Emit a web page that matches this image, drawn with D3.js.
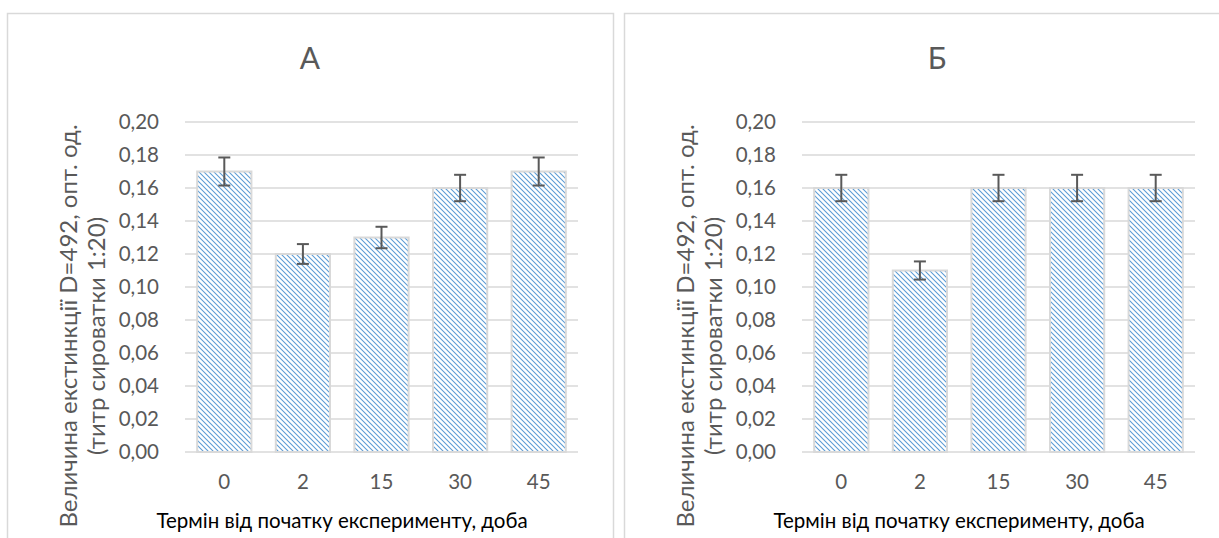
<!DOCTYPE html>
<html>
<head>
<meta charset="utf-8">
<script src="https://cdn.jsdelivr.net/npm/d3@7"></script>
<style>
  body { margin: 0; background: #fff; }
  svg { display: block; font-family: Lato, "Open Sans", sans-serif; }
</style>
</head>
<body>
<div id="chart"></div>
<script>
// data
const categories = ["0", "2", "15", "30", "45"];
const valuesA = [0.17, 0.12, 0.13, 0.16, 0.17];
const errorsA = [0.0085, 0.006, 0.0065, 0.008, 0.0085];
const valuesB = [0.16, 0.11, 0.16, 0.16, 0.16];
const errorsB = [0.008, 0.0055, 0.008, 0.008, 0.008];
const yTicks = [0, 0.02, 0.04, 0.06, 0.08, 0.10, 0.12, 0.14, 0.16, 0.18, 0.20];
const titles = ["А", "Б"];
const yTitle1 = "Величина екстинкції D=492, опт. од.";
const yTitle2 = "(титр сироватки 1:20)";
const xTitle = "Термін від початку експерименту, доба";

const W = 1219, H = 538;
const svg = d3.select("#chart").append("svg")
    .attr("width", W)
    .attr("height", H);

// hatch pattern for the bars
const pat = svg.append("defs").append("pattern")
    .attr("id", "hatch")
    .attr("patternUnits", "userSpaceOnUse")
    .attr("width", 5)
    .attr("height", 5);
pat.append("rect").attr("width", 5).attr("height", 5).attr("fill", "#fff");
pat.append("path")
    .attr("d", "M0,0L5,5M-1,4L1,6M4,-1L6,1")
    .attr("stroke", "#5b9bd5")
    .attr("stroke-width", 1.05);

const fmt = d => d.toFixed(2).replace(".", ",");

function drawPanel(left, width, title, titleX, values, errors) {
  const g = svg.append("g").attr("transform", `translate(${left},0)`);

  // chart border
  g.append("rect")
    .attr("x", 0.5).attr("y", 13.5)
    .attr("width", width).attr("height", H)
    .attr("fill", "#fff")
    .attr("stroke", "#d9d9d9")
    .attr("stroke-width", 1.5);

  const x = d3.scaleBand()
    .domain(categories)
    .range([178, 571])
    .paddingInner(0.31)
    .paddingOuter(0.155);

  const y = d3.scaleLinear()
    .domain([0, 0.2])
    .range([452, 122]);

  // gridlines
  g.append("g").selectAll("line")
    .data(yTicks)
    .join("line")
      .attr("x1", 178).attr("x2", 571)
      .attr("y1", d => y(d)).attr("y2", d => y(d))
      .attr("stroke", "#d9d9d9")
      .attr("stroke-width", 1.5);

  // y tick labels
  g.append("g").selectAll("text")
    .data(yTicks)
    .join("text")
      .attr("x", 152)
      .attr("y", d => y(d))
      .attr("dy", "0.35em")
      .attr("text-anchor", "end")
      .attr("fill", "#595959")
      .style("font-size", "20.5px")
      .text(fmt);

  // x tick labels
  g.append("g").selectAll("text")
    .data(categories)
    .join("text")
      .attr("x", d => x(d) + x.bandwidth() / 2)
      .attr("y", 489)
      .attr("text-anchor", "middle")
      .attr("fill", "#595959")
      .style("font-size", "20.5px")
      .text(d => d);

  // bars
  g.append("g").selectAll("rect")
    .data(values)
    .join("rect")
      .attr("x", (d, i) => x(categories[i]))
      .attr("y", d => y(d))
      .attr("width", x.bandwidth())
      .attr("height", d => y(0) - y(d))
      .attr("fill", "url(#hatch)")
      .attr("stroke", "#d9d9d9")
      .attr("stroke-width", 2);

  // error bars
  const eb = g.append("g").selectAll("g")
    .data(values)
    .join("g")
      .attr("stroke", "#595959")
      .attr("stroke-width", 2);
  eb.append("line")
    .attr("x1", (d, i) => x(categories[i]) + x.bandwidth() / 2)
    .attr("x2", (d, i) => x(categories[i]) + x.bandwidth() / 2)
    .attr("y1", (d, i) => y(d + errors[i]))
    .attr("y2", (d, i) => y(d - errors[i]));
  eb.selectAll("line.cap")
    .data((d, i) => [d + errors[i], d - errors[i]].map(v => ({ v, i })))
    .join("line")
      .attr("class", "cap")
      .attr("x1", d => x(categories[d.i]) + x.bandwidth() / 2 - 6)
      .attr("x2", d => x(categories[d.i]) + x.bandwidth() / 2 + 6)
      .attr("y1", d => y(d.v))
      .attr("y2", d => y(d.v));

  // title
  g.append("text")
    .attr("x", titleX)
    .attr("y", 69)
    .attr("text-anchor", "middle")
    .attr("fill", "#595959")
    .style("font-size", "30px")
    .text(title);

  // y axis title (two lines)
  const yt = g.append("text")
    .attr("transform", "translate(0,326) rotate(-90)")
    .attr("text-anchor", "middle")
    .attr("fill", "#595959")
    .style("font-size", "24px");
  yt.append("tspan").attr("x", 0).attr("y", 70).text(yTitle1);
  yt.append("tspan").attr("x", -10).attr("y", 98).text(yTitle2);

  // x axis title
  g.append("text")
    .attr("x", 335)
    .attr("y", 528)
    .attr("text-anchor", "middle")
    .attr("fill", "#000")
    .style("font-size", "20.5px")
    .text(xTitle);
}

drawPanel(7, 606, titles[0], 303, valuesA, errorsA);
drawPanel(624, 606, titles[1], 313, valuesB, errorsB);
</script>
</body>
</html>
